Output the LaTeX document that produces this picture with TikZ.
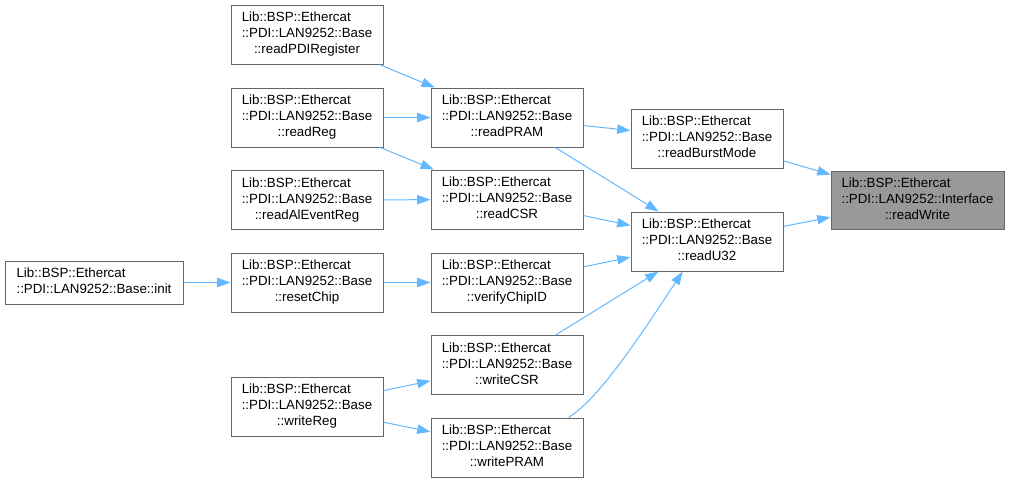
\documentclass[tikz,border=0pt]{standalone}
\usepackage{fontspec}
\setmainfont{Liberation Sans}
\usetikzlibrary{arrows.meta}
\definecolor{edgeblue}{HTML}{63B8FF}
\definecolor{boxgray}{HTML}{666666}
\definecolor{curgray}{HTML}{999999}
\newcommand{\lanlabel}[2]{%
  \begin{tabular}{@{}l@{}}Lib::BSP::Ethercat\\::PDI::LAN9252::#1\\\multicolumn{1}{@{}c@{}}{::#2}\end{tabular}}

\begin{document}
\begin{tikzpicture}[x=0.75pt,y=-0.75pt,
    fn/.style={draw=boxgray, fill=white, line width=0.75pt, inner sep=0pt,
      minimum width=114pt, minimum height=44.25pt, font=\fontsize{10}{12}\selectfont},
    call/.style={draw=edgeblue, line width=0.75pt, -{Triangle[length=10pt,width=7pt]}}]
        \useasboundingbox (0,0) rectangle (1010,483);
        \node[fn, minimum width=133.5pt, minimum height=32.25pt] (init) at (94,282.5)
            {\begin{tabular}{@{}l@{}}Lib::BSP::Ethercat\\::PDI::LAN9252::Base::init\end{tabular}};
        \node[fn] (readPDIRegister) at (307,34.5) {\lanlabel{Base}{readPDIRegister}};
        \node[fn] (readReg) at (307,117.5) {\lanlabel{Base}{readReg}};
        \node[fn] (readAlEventReg) at (307,200) {\lanlabel{Base}{readAlEventReg}};
        \node[fn] (resetChip) at (307,282.5) {\lanlabel{Base}{resetChip}};
        \node[fn] (writeReg) at (307,406.5) {\lanlabel{Base}{writeReg}};
        \node[fn] (readPRAM) at (507,117.5) {\lanlabel{Base}{readPRAM}};
        \node[fn] (readCSR) at (507,199.5) {\lanlabel{Base}{readCSR}};
        \node[fn] (verifyChipID) at (507,282.5) {\lanlabel{Base}{verifyChipID}};
        \node[fn] (writeCSR) at (507,365) {\lanlabel{Base}{writeCSR}};
        \node[fn] (writePRAM) at (507,447.5) {\lanlabel{Base}{writePRAM}};
        \node[fn] (readBurstMode) at (707,138.5) {\lanlabel{Base}{readBurstMode}};
        \node[fn] (readU32) at (707,241.5) {\lanlabel{Base}{readU32}};
        \node[fn, fill=curgray, minimum width=129.75pt, minimum height=43.5pt] (readWrite) at (917.5,200)
            {\lanlabel{Interface}{readWrite}};
        \draw[call] (readPDIRegister) -- (readPRAM);
        \draw[call] (readReg) -- (readPRAM);
        \draw[call] (readReg) -- (readCSR);
        \draw[call] (readAlEventReg) -- (readCSR);
        \draw[call] (init) -- (resetChip);
        \draw[call] (resetChip) -- (verifyChipID);
        \draw[call] (writeReg) -- (writeCSR);
        \draw[call] (writeReg) -- (writePRAM);
        \draw[call] (readPRAM) -- (readBurstMode);
        \draw[call] (readPRAM) -- (readU32);
        \draw[call] (readCSR) -- (readU32);
        \draw[call] (verifyChipID) -- (readU32);
        \draw[call] (writeCSR) -- (readU32);
        \draw[call] (writePRAM.26) .. controls (600,398) and (642,333) .. (readU32.-129);
        \draw[call] (readBurstMode) -- (readWrite);
        \draw[call] (readU32) -- (readWrite);
    \end{tikzpicture}
\end{document}
